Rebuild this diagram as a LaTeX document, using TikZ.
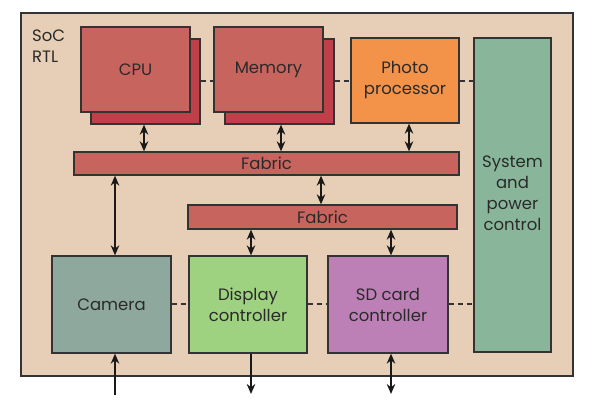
\documentclass[tikz,border=0pt]{standalone}
\usepackage{fontspec}
\setmainfont{Poppins}
\usetikzlibrary{arrows.meta}
\definecolor{bgbeige}{HTML}{E6CFB6}
\definecolor{redbox}{HTML}{C8645E}
\definecolor{redshadow}{HTML}{C0404A}
\definecolor{orangebox}{HTML}{F39249}
\definecolor{sysgreen}{HTML}{89B69A}
\definecolor{camgray}{HTML}{8FA89E}
\definecolor{dispgreen}{HTML}{9ED280}
\definecolor{sdpurple}{HTML}{BC80B6}
\definecolor{edge}{HTML}{333333}
\definecolor{ink}{HTML}{2A2A2A}
\tikzset{
  txt/.style={text=ink, font=\fontsize{16.5}{21}\selectfont},
  blk/.style={txt, draw=edge, line width=1.3pt, inner sep=0pt, align=center},
  link/.style={draw=black!90, line width=1.5pt, {Stealth[length=10pt,width=8.5pt]}-{Stealth[length=10pt,width=8.5pt]}},
  onearrow/.style={draw=black!90, line width=1.5pt, -{Stealth[length=10pt,width=8.5pt]}},
  dashlink/.style={draw=black!80, line width=1.4pt, dash pattern=on 5pt off 4pt},
}
\begin{document}
\begin{tikzpicture}[x=1pt,y=-1pt]
\useasboundingbox (0,0) rectangle (595,409);
\fill[white] (0,0) rectangle (595,409);
% outer SoC box
\node[blk, fill=bgbeige, minimum width=552pt, minimum height=363pt] (soc) at (297,194.5) {};
\node[txt, anchor=north west, align=left, inner sep=0pt] (soclabel) at (32,30) {SoC\\RTL};
% CPU and memory with shadows
\node[blk, fill=redshadow, minimum width=109pt, minimum height=85pt] (cpush) at (145.5,81.5) {};
\node[blk, fill=redbox, minimum width=109pt, minimum height=85pt] (cpu) at (135.5,69.5) {CPU};
\node[blk, fill=redshadow, minimum width=109pt, minimum height=85pt] (memsh) at (279.5,81.5) {};
\node[blk, fill=redbox, minimum width=109pt, minimum height=85pt] (mem) at (268.5,69.5) {Memory};
\node[blk, fill=orangebox, minimum width=108pt, minimum height=85pt] (photo) at (405,80.5) {Photo\\processor};
\node[blk, fill=sysgreen, minimum width=77pt, minimum height=314pt] (sys) at (512.5,195) {};
\node[txt, align=center, font=\fontsize{16.5}{21}\selectfont, inner sep=0pt] (systext) at (512.5,193) {System\\and\\power\\control};
% fabrics
\node[blk, fill=redbox, minimum width=385pt, minimum height=23pt] (fab1) at (266.5,163.5) {Fabric};
\node[blk, fill=redbox, minimum width=269pt, minimum height=24pt] (fab2) at (322.5,217) {Fabric};
% bottom blocks
\node[blk, fill=camgray, minimum width=119pt, minimum height=97pt] (cam) at (111.5,304.5) {Camera};
\node[blk, fill=dispgreen, minimum width=118pt, minimum height=97pt] (disp) at (248,304.5) {Display\\controller};
\node[blk, fill=sdpurple, minimum width=120pt, minimum height=97pt] (sd) at (388,304.5) {SD card\\controller};
% helper coordinates
\coordinate (xcpu) at (144,0);
\coordinate (xmem) at (281,0);
\coordinate (xph) at (409,0);
\coordinate (xf) at (321,0);
\coordinate (xcam) at (115,0);
\coordinate (xdisp) at (251,0);
\coordinate (xsd) at (391,0);
\coordinate (ytop) at (0,81);
\coordinate (ybot) at (0,304);
\coordinate (camin) at (115,395);
\coordinate (dispout) at (251,394);
\coordinate (sdout) at (391,394);
% vertical links
\draw[link] (cpush.south -| xcpu) -- (fab1.north -| xcpu);
\draw[link] (memsh.south -| xmem) -- (fab1.north -| xmem);
\draw[link] (photo.south -| xph) -- (fab1.north -| xph);
\draw[link] (fab1.south -| xf) -- (fab2.north -| xf);
\draw[link] (fab1.south -| xcam) -- (cam.north -| xcam);
\draw[link] (fab2.south -| xdisp) -- (disp.north -| xdisp);
\draw[link] (fab2.south -| xsd) -- (sd.north -| xsd);
\draw[onearrow] (camin) -- (cam.south -| xcam);
\draw[onearrow] (disp.south -| xdisp) -- (dispout);
\draw[link] (sd.south -| xsd) -- (sdout);
% dashed links
\draw[dashlink] (cpush.east |- ytop) -- (mem.west |- ytop);
\draw[dashlink] (memsh.east |- ytop) -- (photo.west |- ytop);
\draw[dashlink] (photo.east |- ytop) -- (sys.west |- ytop);
\draw[dashlink] (cam.east |- ybot) -- (disp.west |- ybot);
\draw[dashlink] (disp.east |- ybot) -- (sd.west |- ybot);
\draw[dashlink] (sd.east |- ybot) -- (sys.west |- ybot);
\end{tikzpicture}
\end{document}
